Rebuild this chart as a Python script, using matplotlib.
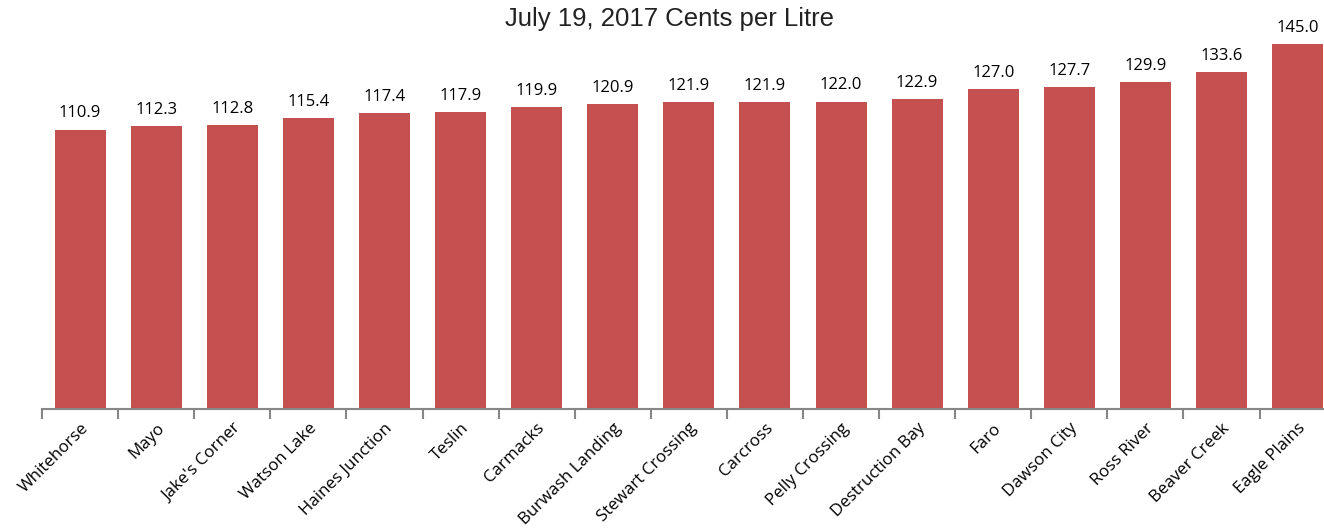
import matplotlib.pyplot as plt
import numpy as np

communities = ["Whitehorse", "Mayo", "Jake's Corner", "Watson Lake", "Haines Junction",
               "Teslin", "Carmacks", "Burwash Landing", "Stewart Crossing", "Carcross",
               "Pelly Crossing", "Destruction Bay", "Faro", "Dawson City", "Ross River",
               "Beaver Creek", "Eagle Plains"]
prices = [110.9, 112.3, 112.8, 115.4, 117.4, 117.9, 119.9, 120.9, 121.9, 121.9,
          122.0, 122.9, 127.0, 127.7, 129.9, 133.6, 145.0]

fig = plt.figure(figsize=(13.24, 5.29), dpi=100)
ax = fig.add_axes([0.0318, 0.2268, 0.977, 0.7146])

x = np.arange(len(communities))
ax.bar(x, prices, width=0.67, color='#C4504F')
for xi, v in zip(x, prices):
    ax.text(xi, v + 3.2, f"{v:.1f}", ha='center', va='bottom', fontsize=12,
            family='Open Sans', color='#000000')

ax.set_xlim(-0.5, len(communities) - 0.5)
ax.set_ylim(0, 150)
ax.set_yticks([])
for s in ['top', 'right', 'left']:
    ax.spines[s].set_visible(False)
ax.spines['bottom'].set_color('#868686')
ax.spines['bottom'].set_linewidth(1.5)

# boundary ticks (major), labels at centres (minor)
ax.set_xticks(np.arange(-0.5, len(communities)), labels=[])
ax.tick_params(axis='x', which='major', length=7, width=1.5, color='#868686')
ax.set_xticks(x, labels=communities, minor=True)
ax.tick_params(axis='x', which='minor', length=0, pad=8)
for lbl in ax.get_xticklabels(minor=True):
    lbl.set_rotation(45)
    lbl.set_ha('right')
    lbl.set_rotation_mode('anchor')
    lbl.set_fontsize(12.2)
    lbl.set_family('Open Sans')

fig.text(0.506, 0.965, "July 19, 2017 Cents per Litre", ha='center', va='center',
         fontsize=18.5, family='Liberation Sans', color='#222222')

fig.savefig('out.png', dpi=100)
